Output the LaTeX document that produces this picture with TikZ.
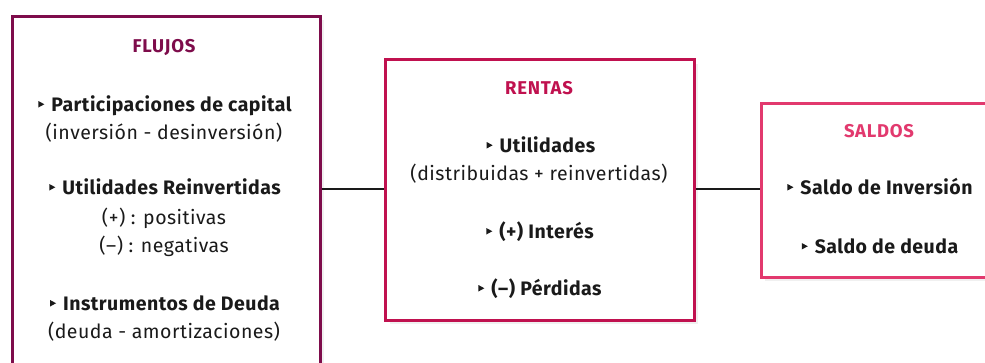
\documentclass[tikz,border=0pt]{standalone}
\usepackage{fontspec}
\setmainfont{Fira Sans}
\usetikzlibrary{shadows}

\definecolor{flujos}{HTML}{7E0C4B}
\definecolor{rentas}{HTML}{C0114F}
\definecolor{saldos}{HTML}{E2396E}
\definecolor{ink}{HTML}{1A1A1A}

% small triangle bullet
\newcommand{\tribul}{\tikz[baseline=0pt, x=1pt, y=1pt]\fill[ink] (0,3.5) -- (0,10) -- (6,6.75) -- cycle;\hspace{7pt}}

\begin{document}
\begin{tikzpicture}[x=1pt, y=-1pt,
    box/.style={draw, rectangle, line width=3pt, fill=white, inner sep=0pt, anchor=north west,
        drop shadow={shadow xshift=4pt, shadow yshift=-4pt, opacity=0.12}},
    title/.style={anchor=base, inner sep=0pt, font=\fontsize{18.5}{20}\selectfont\bfseries\addfontfeatures{LetterSpace=4}},
    item/.style={anchor=base, inner sep=0pt, text=ink, font=\fontsize{19.5}{22}\selectfont\bfseries\addfontfeatures{LetterSpace=2.5}},
    note/.style={anchor=base, inner sep=0pt, text=ink, font=\fontsize{19.5}{22}\selectfont\addfontfeatures{LetterSpace=2.5}},
    conn/.style={draw, line width=2pt, ink}]
    \useasboundingbox (0,0) rectangle (985,362);

    % Boxes
    \node[box, draw=flujos, minimum width=308pt, minimum height=348pt] (flujos) at (10.5,14.5) {};
    \node[box, draw=rentas, minimum width=308.5pt, minimum height=260.5pt] (rentas) at (384,58) {};
    \node[box, draw=saldos, minimum width=245pt, minimum height=173.5pt] (saldos) at (759.5,102) {};

    % Flujos
    \node[title, text=flujos] (ftitle) at (164,52) {FLUJOS};
    \node[item] (fcap) at (165,111) {\tribul Participaciones de capital};
    \node[note] (fcapnote) at (164,139) {(inversión - desinversión)};
    \node[item] (freinv) at (165,194) {\tribul Utilidades Reinvertidas};
    \node[note] (fpos) at (164,224) {(+) : positivas};
    \node[note] (fneg) at (164,252) {(–) : negativas};
    \node[item] (fdeuda) at (165,310) {\tribul Instrumentos de Deuda};
    \node[note] (fdeudanote) at (164,338) {(deuda - amortizaciones)};

    % Rentas
    \node[title, text=rentas] (rtitle) at (539,94) {RENTAS};
    \node[item] (rutil) at (541,152) {\tribul Utilidades};
    \node[note] (rutilnote) at (539,180) {(distribuidas + reinvertidas)};
    \node[item] (rint) at (540,238) {\tribul (+) Interés};
    \node[item] (rperd) at (540,295) {\tribul (–) Pérdidas};

    % Saldos
    \node[title, text=saldos] (stitle) at (879,137) {SALDOS};
    \node[item] (sinv) at (880,194) {\tribul Saldo de Inversión};
    \node[item] (sdeuda) at (880,253) {\tribul Saldo de deuda};

    % Lines
    \draw[conn] (flujos.east |- 0,188.5) -- (rentas.west |- 0,188.5);
    \draw[conn] (rentas.east |- 0,188.5) -- (saldos.west |- 0,188.5);
\end{tikzpicture}
\end{document}
